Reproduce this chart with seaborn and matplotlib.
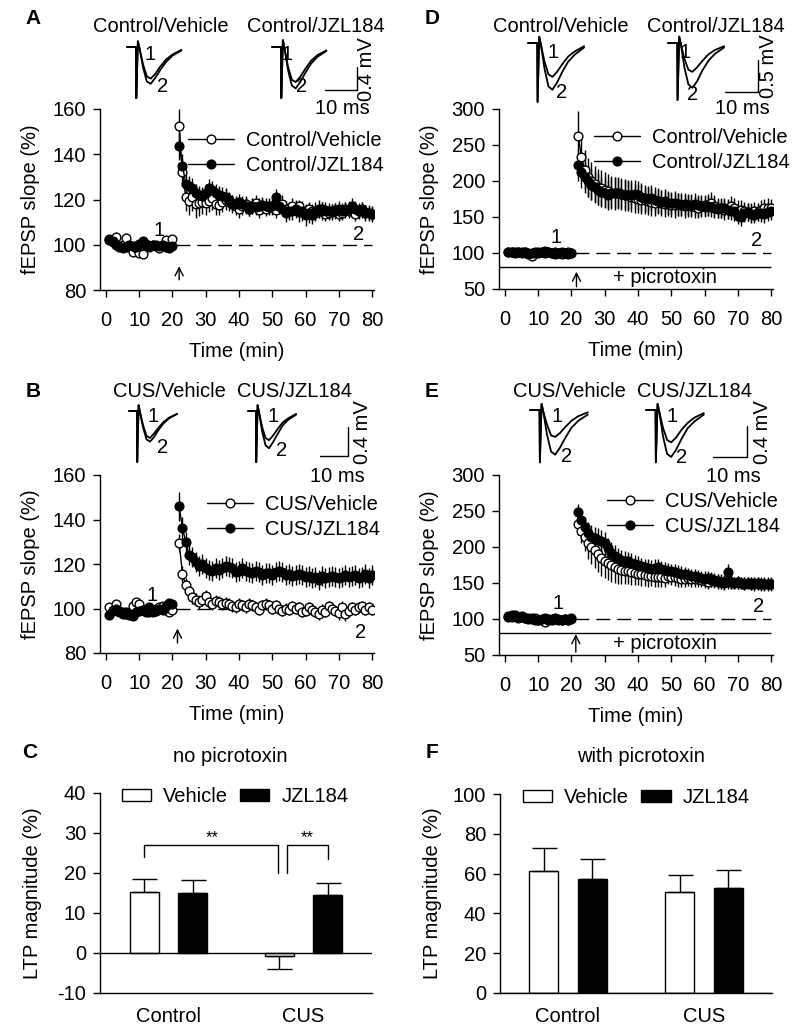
import numpy as np
import pandas as pd
import matplotlib
matplotlib.use("Agg")
import matplotlib.pyplot as plt
from matplotlib.lines import Line2D
import seaborn as sns

# ------------------------------------------------------------------ data
TIME_MIN = list(range(1, 21)) + list(range(22, 81))
BASELINE = 100

A_VEH_MEAN = [
    102.5, 101.0, 103.5, 99.0, 100.0, 103.0, 99.5, 97.0, 98.5, 96.5,
    96.0, 100.5, 99.0, 100.0, 99.5, 98.5, 100.0, 102.0, 99.5, 102.5,
    152.5, 132.0, 121.0, 119.5, 121.0, 118.0, 118.5, 119.0, 118.5, 119.5,
    120.5, 118.0, 117.5, 119.0, 120.0, 119.0, 118.0, 117.0, 116.0, 117.0,
    118.0, 116.0, 117.0, 118.5, 115.5, 117.0, 116.0, 117.0, 116.5, 115.5,
    117.0, 118.0, 116.0, 115.0, 117.0, 116.0, 117.0, 114.5, 115.0, 116.0,
    115.0, 114.0, 115.0, 116.0, 113.5, 114.0, 115.0, 115.5, 113.5, 114.0,
    116.0, 115.0, 115.5, 113.5, 115.0, 116.0, 114.5, 114.0, 113.5]
A_VEH_SEM = [
    1.5, 1.5, 2.0, 1.5, 1.5, 2.0, 1.5, 1.5, 1.5, 2.0,
    2.0, 1.5, 1.5, 1.5, 1.5, 1.5, 1.5, 1.5, 1.5, 1.5,
    7.5, 6.0, 6.0, 6.5, 6.0, 6.0, 6.0, 5.5, 5.5, 5.0,
    5.0, 5.0, 4.5, 4.5, 4.5, 4.0, 4.0, 4.0, 4.0, 4.0,
    3.5, 3.5, 3.5, 3.5, 3.5, 3.5, 3.5, 3.5, 3.5, 3.5,
    3.5, 4.0, 3.5, 3.5, 3.5, 3.5, 3.0, 3.0, 3.0, 3.0,
    3.0, 3.5, 3.0, 3.0, 3.0, 3.0, 3.0, 3.0, 3.0, 3.0,
    3.0, 3.0, 3.0, 3.0, 3.0, 3.0, 3.0, 3.0, 3.0]
A_JZL_MEAN = [
    102.0, 101.5, 100.0, 99.5, 98.5, 99.0, 100.0, 99.5, 99.0, 100.5,
    101.5, 100.0, 99.5, 100.0, 100.0, 99.5, 100.0, 99.0, 98.5, 99.5,
    143.5, 135.0, 127.0, 126.0, 125.0, 123.0, 122.0, 121.5, 123.0, 125.0,
    124.0, 123.0, 122.0, 121.5, 121.0, 120.0, 118.5, 118.0, 119.0, 118.0,
    117.0, 116.0, 117.0, 116.5, 117.0, 117.5, 117.0, 116.5, 117.0, 121.0,
    117.0, 116.0, 114.0, 115.0, 115.0, 116.0, 114.5, 115.0, 113.0, 114.0,
    113.0, 115.0, 116.0, 115.0, 115.5, 115.0, 114.5, 115.0, 116.0, 115.0,
    115.5, 116.0, 117.0, 116.0, 115.0, 115.5, 114.0, 114.0, 113.5]
A_JZL_SEM = [
    1.5, 1.5, 1.5, 1.5, 1.5, 1.5, 1.5, 1.5, 1.5, 1.5,
    1.5, 1.5, 1.5, 1.5, 1.5, 1.5, 1.5, 1.5, 1.5, 1.5,
    6.0, 5.0, 4.5, 4.5, 4.5, 4.0, 4.0, 4.0, 4.0, 4.0,
    4.0, 4.0, 4.0, 4.0, 4.0, 3.5, 3.5, 3.5, 3.5, 3.5,
    3.5, 3.5, 3.5, 3.5, 3.5, 3.5, 3.5, 3.5, 3.5, 3.5,
    3.5, 3.5, 4.0, 4.0, 4.0, 4.0, 4.5, 4.5, 4.5, 4.5,
    4.0, 4.0, 4.0, 4.0, 3.5, 3.5, 3.5, 3.5, 3.5, 3.5,
    3.5, 3.5, 3.5, 3.5, 3.5, 3.5, 3.5, 3.5, 3.5]

B_VEH_MEAN = [
    100.5, 99.5, 102.0, 99.0, 98.5, 97.5, 98.0, 101.0, 103.0, 102.0,
    99.5, 99.0, 98.5, 99.5, 100.0, 100.5, 101.0, 99.5, 98.5, 99.5,
    129.5, 115.5, 110.5, 108.0, 105.0, 104.0, 103.0, 104.0, 105.5, 103.0,
    102.0, 103.5, 103.0, 102.0, 102.5, 102.0, 101.0, 100.5, 102.0, 101.5,
    100.5, 102.0, 101.5, 100.5, 99.5, 101.5, 102.0, 101.5, 100.0, 101.5,
    100.0, 99.0, 100.0, 99.5, 101.0, 100.0, 100.5, 98.5, 99.0, 100.5,
    99.5, 98.5, 97.5, 99.5, 98.5, 101.0, 100.0, 99.0, 98.0, 100.5,
    97.5, 99.0, 100.5, 99.5, 100.5, 101.0, 99.5, 100.5, 99.5]
B_VEH_SEM = [
    1.5, 1.5, 1.5, 1.5, 1.5, 1.5, 1.5, 1.5, 1.5, 1.5,
    1.5, 1.5, 1.5, 1.5, 1.5, 1.5, 1.5, 1.5, 1.5, 1.5,
    4.0, 3.5, 3.0, 3.0, 3.0, 3.0, 3.0, 3.0, 3.0, 3.0,
    2.5, 2.5, 2.5, 2.5, 2.5, 2.5, 2.5, 2.5, 2.5, 2.5,
    2.5, 2.5, 2.5, 2.5, 2.5, 2.5, 2.5, 2.5, 2.5, 2.5,
    2.5, 2.5, 2.5, 2.5, 2.5, 2.5, 2.5, 2.5, 2.5, 2.5,
    2.5, 2.5, 2.5, 2.5, 2.5, 2.5, 2.5, 2.5, 3.0, 3.0,
    3.0, 3.0, 2.5, 2.5, 2.5, 2.5, 2.5, 2.5, 2.5]
B_JZL_MEAN = [
    97.0, 99.0, 100.0, 98.5, 97.5, 98.5, 97.0, 96.5, 98.5, 99.0,
    99.5, 98.5, 100.5, 98.5, 99.0, 100.0, 99.5, 101.0, 102.5, 102.0,
    146.0, 136.0, 130.0, 124.0, 123.0, 121.0, 119.0, 120.0, 118.0, 117.5,
    117.0, 118.0, 117.5, 118.0, 119.0, 118.5, 118.0, 116.5, 117.0, 118.0,
    117.0, 116.5, 116.0, 117.0, 116.5, 115.0, 116.0, 116.0, 115.0, 116.5,
    117.0, 116.5, 115.0, 115.5, 114.5, 115.0, 115.5, 115.0, 114.0, 114.5,
    113.5, 114.0, 113.0, 114.5, 113.5, 114.0, 114.5, 114.0, 113.5, 114.0,
    115.0, 114.0, 114.5, 115.0, 113.5, 114.0, 115.5, 113.5, 115.0]
B_JZL_SEM = [
    1.5, 1.5, 1.5, 1.5, 1.5, 1.5, 1.5, 1.5, 1.5, 1.5,
    1.5, 1.5, 1.5, 1.5, 1.5, 1.5, 1.5, 1.5, 1.5, 1.5,
    6.5, 5.0, 4.5, 4.5, 4.5, 4.5, 4.5, 4.5, 4.5, 4.5,
    4.5, 4.5, 4.5, 4.5, 4.5, 4.5, 4.5, 4.5, 4.5, 4.5,
    4.5, 4.5, 4.5, 4.5, 4.5, 4.5, 4.5, 4.5, 4.5, 4.5,
    4.5, 4.5, 4.5, 4.5, 4.5, 4.5, 4.5, 4.5, 4.5, 4.5,
    4.5, 4.5, 4.5, 4.5, 4.5, 4.5, 4.5, 4.5, 4.5, 4.5,
    4.5, 4.5, 4.5, 4.5, 4.5, 4.5, 4.5, 4.5, 4.5]

D_VEH_MEAN = [
    101, 102, 100, 101, 102, 101, 100, 96, 100, 101,
    102, 103, 101, 100, 101, 100, 99, 100, 101, 100,
    262, 234, 215, 205, 200, 196, 192, 190, 188, 186,
    184, 183, 183, 182, 181, 180, 178, 176, 175, 174,
    173, 172, 171, 170, 172, 169, 168, 168, 167, 166,
    168, 167, 165, 166, 165, 164, 163, 165, 166, 167,
    170, 165, 163, 162, 160, 161, 165, 163, 159, 160,
    158, 157, 156, 158, 157, 160, 162, 163, 162]
D_VEH_SEM = [
    3, 3, 3, 3, 3, 3, 3, 4, 3, 3,
    3, 3, 3, 3, 3, 3, 3, 3, 3, 3,
    35, 30, 28, 27, 26, 25, 25, 25, 24, 24,
    23, 23, 22, 22, 22, 21, 21, 20, 20, 20,
    19, 19, 19, 18, 18, 18, 18, 17, 17, 17,
    16, 16, 16, 16, 15, 15, 15, 15, 15, 15,
    15, 15, 14, 14, 14, 14, 14, 14, 14, 14,
    13, 13, 13, 13, 13, 13, 13, 13, 13]
D_JZL_MEAN = [
    102, 101, 102, 101, 100, 101, 99, 100, 101, 100,
    101, 100, 101, 100, 99, 100, 101, 100, 99, 100,
    222, 212, 205, 200, 195, 192, 188, 185, 183, 181,
    183, 184, 183, 182, 181, 180, 181, 182, 180, 178,
    176, 175, 176, 174, 172, 171, 172, 170, 169, 170,
    168, 167, 168, 166, 167, 168, 166, 165, 164, 165,
    164, 162, 161, 162, 163, 160, 159, 158, 152, 150,
    155, 157, 154, 153, 156, 155, 154, 157, 158]
D_JZL_SEM = [
    3, 3, 3, 3, 3, 3, 3, 3, 3, 3,
    3, 3, 3, 3, 3, 3, 3, 3, 3, 3,
    22, 22, 22, 22, 22, 22, 22, 21, 21, 21,
    21, 21, 21, 20, 20, 20, 20, 20, 20, 19,
    19, 18, 18, 18, 17, 17, 17, 16, 16, 16,
    16, 15, 15, 15, 15, 15, 14, 14, 14, 14,
    14, 14, 13, 13, 13, 13, 13, 13, 12, 12,
    12, 12, 12, 12, 12, 12, 12, 12, 12]

E_VEH_MEAN = [
    104, 103, 105, 102, 103, 101, 102, 100, 101, 99,
    98, 96, 99, 100, 101, 100, 99, 100, 99, 101,
    232, 222, 214, 205, 200, 196, 190, 185, 181, 178,
    175, 172, 170, 168, 167, 166, 165, 164, 163, 162,
    161, 160, 160, 159, 158, 158, 157, 160, 159, 158,
    157, 156, 155, 157, 156, 155, 155, 154, 153, 152,
    154, 153, 152, 151, 150, 152, 151, 150, 151, 150,
    149, 150, 149, 148, 150, 149, 148, 149, 148]
E_VEH_SEM = [
    3, 3, 3, 3, 3, 3, 3, 3, 3, 3,
    3, 3, 3, 3, 3, 3, 3, 3, 3, 3,
    15, 16, 20, 22, 24, 25, 25, 25, 24, 24,
    23, 22, 21, 20, 19, 18, 18, 17, 16, 16,
    15, 15, 14, 14, 13, 13, 13, 12, 12, 12,
    12, 11, 11, 11, 11, 11, 10, 10, 10, 10,
    10, 10, 10, 10, 10, 10, 10, 9, 9, 9,
    9, 9, 9, 9, 9, 9, 9, 9, 9]
E_JZL_MEAN = [
    103, 105, 104, 103, 104, 102, 100, 101, 99, 98,
    100, 101, 100, 99, 100, 99, 98, 100, 99, 100,
    248, 238, 228, 220, 214, 212, 210, 208, 205, 198,
    192, 188, 185, 182, 181, 180, 178, 176, 175, 173,
    172, 171, 170, 171, 172, 170, 168, 167, 166, 165,
    164, 163, 162, 161, 160, 160, 158, 157, 156, 157,
    155, 154, 153, 152, 151, 165, 152, 150, 151, 150,
    149, 150, 149, 150, 149, 148, 149, 148, 149]
E_JZL_SEM = [
    3, 3, 3, 3, 3, 3, 3, 3, 3, 3,
    3, 3, 3, 3, 3, 3, 3, 3, 3, 3,
    12, 12, 14, 15, 16, 16, 16, 16, 16, 15,
    15, 15, 14, 14, 14, 13, 13, 13, 13, 12,
    12, 12, 12, 12, 11, 11, 11, 11, 11, 11,
    11, 10, 10, 10, 10, 10, 10, 10, 10, 10,
    10, 10, 10, 10, 10, 11, 10, 9, 9, 9,
    9, 9, 9, 9, 9, 9, 9, 9, 9]

# LTP magnitude bars
GROUPS = ["Control", "CUS"]
DRUGS = ["Vehicle", "JZL184"]
C_VEH = [15.2, -0.7]
C_VEH_ERR = [3.3, 3.3]
C_JZL = [15.1, 14.4]
C_JZL_ERR = [3.2, 3.2]
F_VEH = [61.5, 51.0]
F_VEH_ERR = [11.5, 8.5]
F_JZL = [57.5, 53.0]
F_JZL_ERR = [10.0, 9.0]

# example fEPSP traces (ms, mV relative to baseline)
T_MS = [0.0, 2.8, 2.9, 3.4, 3.9, 5.0, 6.2, 7.4, 8.8, 10.4, 12.2, 14.2, 17.0]
A_VEH_TR = [[0, 0, -0.89, 0.10, -0.02, -0.30, -0.51, -0.55, -0.47, -0.34, -0.22, -0.13, -0.05],
            [0, 0, -0.89, 0.10, -0.02, -0.35, -0.60, -0.64, -0.54, -0.40, -0.26, -0.15, -0.06]]
A_JZL_TR = [[0, 0, -0.89, 0.12, -0.02, -0.34, -0.57, -0.61, -0.52, -0.38, -0.24, -0.14, -0.06],
            [0, 0, -0.89, 0.12, -0.02, -0.40, -0.67, -0.72, -0.61, -0.45, -0.29, -0.17, -0.07]]
B_VEH_TR = [[0, 0, -0.70, 0.08, -0.02, -0.20, -0.34, -0.37, -0.31, -0.23, -0.15, -0.09, -0.04],
            [0, 0, -0.70, 0.08, -0.02, -0.23, -0.39, -0.42, -0.36, -0.26, -0.17, -0.10, -0.04]]
B_JZL_TR = [[0, 0, -0.70, 0.08, -0.02, -0.22, -0.37, -0.40, -0.34, -0.25, -0.16, -0.10, -0.04],
            [0, 0, -0.70, 0.08, -0.02, -0.28, -0.47, -0.51, -0.43, -0.32, -0.20, -0.12, -0.05]]
D_VEH_TR = [[0, 0, -0.92, 0.10, -0.02, -0.29, -0.49, -0.53, -0.45, -0.33, -0.21, -0.13, -0.05],
            [0, 0, -0.92, 0.10, -0.02, -0.40, -0.68, -0.73, -0.62, -0.45, -0.29, -0.18, -0.07]]
D_JZL_TR = [[0, 0, -0.89, 0.10, -0.02, -0.25, -0.42, -0.45, -0.38, -0.28, -0.18, -0.11, -0.05],
            [0, 0, -0.89, 0.10, -0.02, -0.39, -0.65, -0.70, -0.60, -0.43, -0.28, -0.17, -0.07]]
E_VEH_TR = [[0, 0, -0.68, 0.08, -0.02, -0.19, -0.33, -0.35, -0.30, -0.22, -0.14, -0.08, -0.03],
            [0, 0, -0.68, 0.08, -0.02, -0.32, -0.54, -0.58, -0.49, -0.36, -0.23, -0.14, -0.06]]
E_JZL_TR = [[0, 0, -0.68, 0.08, -0.02, -0.23, -0.39, -0.42, -0.36, -0.26, -0.17, -0.10, -0.04],
            [0, 0, -0.68, 0.08, -0.02, -0.34, -0.57, -0.61, -0.52, -0.38, -0.24, -0.15, -0.06]]

# ------------------------------------------------------------------ style
sns.set_theme(style="ticks")
plt.rcParams['font.family'] = ['Liberation Sans', 'DejaVu Sans']
FS = 14.5
plt.rcParams.update({
    'font.size': FS, 'axes.labelsize': FS, 'xtick.labelsize': FS, 'ytick.labelsize': FS,
    'axes.linewidth': 1.0, 'axes.edgecolor': 'black', 'axes.labelcolor': 'black',
    'xtick.color': 'black', 'ytick.color': 'black', 'text.color': 'black',
    'xtick.major.width': 1.0, 'ytick.major.width': 1.0,
    'xtick.major.size': 5, 'ytick.major.size': 5,
    'axes.unicode_minus': False,
})

W, H = 800, 1030
fig = plt.figure(figsize=(W / 100, H / 100), dpi=100)


def px_axes(L, T, R, B):
    return fig.add_axes([L / W, 1 - B / H, (R - L) / W, (B - T) / H])


def ftext(x, y, s, **kw):
    kw.setdefault('ha', 'center')
    kw.setdefault('va', 'center')
    kw.setdefault('fontsize', FS)
    fig.text(x / W, 1 - y / H, s, **kw)


def time_panel(box, veh_m, veh_e, jzl_m, jzl_e, names, ylim, yticks, lab1, lab2,
               arrow, leg_anchor, picro=False):
    L, T, R, B = box
    ax = px_axes(L, T, R, B)
    t = np.array(TIME_MIN)
    seg = np.where(t < 21, 0, 1)
    ax.hlines(BASELINE, 21, 80, colors='black', linewidth=1.0,
              linestyles=(0, (10, 5)), zorder=1)
    if picro:
        ax.hlines(81, -1.8, 80, colors='black', linewidth=1.0, zorder=1)
        ax.text(48, 66.5, "+ picrotoxin", ha='center', va='center', fontsize=FS)
    series = [(veh_m, veh_e, 'white', 3), (jzl_m, jzl_e, 'black', 4)]
    for m, e, fc, z in series:
        df = pd.DataFrame({'t': t, 'm': m, 'e': e, 'seg': seg})
        ax.errorbar(df['t'], df['m'], yerr=df['e'], fmt='none', ecolor='black',
                    elinewidth=1.0, capsize=0, zorder=2)
    for m, e, fc, z in series:
        df = pd.DataFrame({'t': t, 'm': m, 'e': e, 'seg': seg})
        sns.lineplot(data=df, x='t', y='m', units='seg', estimator=None, ax=ax,
                     color='black', linewidth=1.0, marker='o', markersize=6.3,
                     markerfacecolor=fc, markeredgecolor='black',
                     markeredgewidth=1.0, legend=False, zorder=z)
    ax.set_xlim(-1.8, 80.6)
    ax.set_ylim(*ylim)
    ax.set_xticks(range(0, 81, 10))
    ax.set_yticks(yticks)
    ax.tick_params(axis='x', pad=10)
    ax.tick_params(axis='y', pad=5)
    ax.set_xlabel("Time (min)", fontweight='normal')
    ax.set_ylabel("fEPSP slope (%)", fontweight='normal')
    ax.xaxis.set_label_coords(0.5, -52 / (B - T))
    ax.yaxis.set_label_coords(-60 / (R - L), 0.5)
    sns.despine(ax=ax)
    ax.text(lab1[0], lab1[1], "1", ha='center', va='center', fontsize=FS)
    ax.text(lab2[0], lab2[1], "2", ha='center', va='center', fontsize=FS)
    ax.annotate('', xy=(arrow[0], arrow[2]), xytext=(arrow[0], arrow[1]),
                arrowprops=dict(arrowstyle='->', color='black', lw=1.0,
                                shrinkA=0, shrinkB=0))
    handles = [Line2D([], [], color='black', lw=1.0, marker='o', markersize=6.3,
                      markerfacecolor=fc, markeredgecolor='black')
               for fc in ('white', 'black')]
    ax.legend(handles, names, loc='upper left', bbox_to_anchor=leg_anchor,
              frameon=False, borderpad=0, borderaxespad=0, handlelength=2.3,
              handletextpad=0.6, labelspacing=0.3, fontsize=FS)
    return ax


def bar_panel(box, veh, veh_err, jzl, jzl_err, ylim, yticks, xlim, leg_anchor):
    L, T, R, B = box
    ax = px_axes(L, T, R, B)
    df = pd.DataFrame({
        'group': GROUPS + GROUPS,
        'drug': [DRUGS[0]] * 2 + [DRUGS[1]] * 2,
        'value': veh + jzl,
    })
    sns.barplot(data=df, x='group', y='value', hue='drug', hue_order=DRUGS,
                palette={'Vehicle': 'white', 'JZL184': 'black'}, saturation=1,
                edgecolor='black', linewidth=1.0, width=0.72, gap=0.4,
                errorbar=None, ax=ax)
    centers = {}
    for cont, errs, name in zip(ax.containers, (veh_err, jzl_err), DRUGS):
        for bar, err, grp in zip(cont, errs, GROUPS):
            x = bar.get_x() + bar.get_width() / 2
            v = bar.get_y() + bar.get_height()
            if bar.get_height() < 0:
                yerr = [[err], [0]]
            else:
                yerr = [[0], [err]]
            ax.errorbar([x], [v], yerr=yerr, fmt='none', ecolor='black',
                        elinewidth=1.0, capsize=9, capthick=1.0, zorder=3)
            centers[(grp, name)] = x
    ax.axhline(0, color='black', lw=1.0, zorder=4)
    ax.set_xlim(*xlim)
    ax.set_ylim(*ylim)
    ax.set_yticks(yticks)
    ax.set_xlabel("")
    ax.set_ylabel("LTP magnitude (%)", fontweight='normal')
    ax.yaxis.set_label_coords(-58 / (R - L), 0.5)
    ax.tick_params(axis='x', length=0, pad=10)
    ax.tick_params(axis='y', pad=5)
    sns.despine(ax=ax)
    sns.move_legend(ax, 'upper left', bbox_to_anchor=leg_anchor, ncol=2,
                    frameon=False, title=None, handlelength=1.45,
                    handleheight=0.6, handletextpad=0.6, columnspacing=0.6,
                    borderpad=0, borderaxespad=0, fontsize=FS)
    return ax, centers


def trace_row(box, y0, px_ms, px_mv, starts, pairs, sb_corner, sb_ms, sb_mv):
    L, T, R, B = box
    ax = px_axes(L, T, R, B)
    ax.set_xlim(0, (R - L) / px_ms)
    ax.set_ylim((y0 - B) / px_mv, (y0 - T) / px_mv)
    for start, pair in zip(starts, pairs):
        off = (start - L) / px_ms
        for v in pair:
            df = pd.DataFrame({'t': np.array(T_MS) + off, 'v': v})
            sns.lineplot(data=df, x='t', y='v', sort=False, estimator=None,
                         color='black', linewidth=1.3, ax=ax, legend=False)
    cx = (sb_corner[0] - L) / px_ms
    cy = (y0 - sb_corner[1]) / px_mv
    ax.plot([cx - sb_ms, cx, cx], [cy, cy, cy + sb_mv], color='black', lw=1.0)
    ax.axis('off')


# ------------------------------------------------------------------ panels
time_panel((100, 109, 374, 290), A_VEH_MEAN, A_VEH_SEM, A_JZL_MEAN, A_JZL_SEM,
           ["Control/Vehicle", "Control/JZL184"], (80, 160), [80, 100, 120, 140, 160],
           (16, 106.5), (76, 104.5), (22, 84.5, 90.5), (0.32, 0.88))
time_panel((100, 475, 374, 653), B_VEH_MEAN, B_VEH_SEM, B_JZL_MEAN, B_JZL_SEM,
           ["CUS/Vehicle", "CUS/JZL184"], (80, 160), [80, 100, 120, 140, 160],
           (14, 106), (76.5, 89), (21.5, 84.5, 91), (0.39, 0.888))
time_panel((499, 109, 773, 289), D_VEH_MEAN, D_VEH_SEM, D_JZL_MEAN, D_JZL_SEM,
           ["Control/Vehicle", "Control/JZL184"], (50, 300), [50, 100, 150, 200, 250, 300],
           (15.5, 122), (75.7, 117), (21.5, 53, 74), (0.347, 0.895), picro=True)
time_panel((499, 475, 773, 655), E_VEH_MEAN, E_VEH_SEM, E_JZL_MEAN, E_JZL_SEM,
           ["CUS/Vehicle", "CUS/JZL184"], (50, 300), [50, 100, 150, 200, 250, 300],
           (16, 122), (76.3, 117), (21.3, 54, 79), (0.394, 0.905), picro=True)

axC, cC = bar_panel((100, 793, 372, 993), C_VEH, C_VEH_ERR, C_JZL, C_JZL_ERR,
                    (-10, 40), [-10, 0, 10, 20, 30, 40], (-0.51, 1.51), (0.08, 1.03))
axF, cF = bar_panel((500, 794, 772, 993), F_VEH, F_VEH_ERR, F_JZL, F_JZL_ERR,
                    (0, 100), [0, 20, 40, 60, 80, 100], (-0.5, 1.5), (0.085, 1.03))

# significance brackets in C
x1 = cC[("Control", "Vehicle")]
x2 = cC[("CUS", "Vehicle")]
x3 = cC[("CUS", "JZL184")]
axC.plot([x1, x1, x2 - 0.01, x2 - 0.01], [24, 27, 27, 20], color='black', lw=1.0)
axC.plot([x2 + 0.06, x2 + 0.06, x3, x3], [20, 27, 27, 23.5], color='black', lw=1.0)
axC.text((x1 + x2) / 2, 28.8, "**", ha='center', va='center', fontsize=12)
axC.text((x2 + 0.06 + x3) / 2, 28.8, "**", ha='center', va='center', fontsize=12)

# traces
trace_row((120, 30, 364, 102), 47, 3.2, 57.5, (127, 272), (A_VEH_TR, A_JZL_TR),
          (357, 90), 10, 0.4)
trace_row((120, 398, 352, 466), 411, 2.83, 73, (129, 248), (B_VEH_TR, B_JZL_TR),
          (348, 456), 10, 0.4)
trace_row((520, 30, 762, 106), 43, 3.3, 64, (528, 668), (D_VEH_TR, D_JZL_TR),
          (758, 92), 10, 0.5)
trace_row((522, 398, 752, 466), 410, 3.4, 77, (530, 646), (E_VEH_TR, E_JZL_TR),
          (747, 457), 10, 0.4)

# ------------------------------------------------------------------ text
for s, x, y in [("A", 33, 19), ("B", 33, 392), ("C", 30, 752),
                ("D", 432, 19), ("E", 432, 392), ("F", 432, 752)]:
    ftext(x, y, s, fontweight='bold', fontsize=15)

for s, x, y in [("Control/Vehicle", 161, 27), ("Control/JZL184", 316, 27),
                ("CUS/Vehicle", 169, 392), ("CUS/JZL184", 295, 392),
                ("Control/Vehicle", 561, 27), ("Control/JZL184", 716, 27),
                ("CUS/Vehicle", 569, 392), ("CUS/JZL184", 695, 392),
                ("10 ms", 342, 109), ("10 ms", 337, 477),
                ("10 ms", 742, 109), ("10 ms", 733, 477),
                ("no picrotoxin", 230, 757), ("with picrotoxin", 641, 757)]:
    ftext(x, y, s)

for s, x, y in [("0.4 mV", 366, 69), ("0.4 mV", 363, 432),
                ("0.5 mV", 768, 66), ("0.4 mV", 762, 432)]:
    ftext(x, y, s, rotation=90)

for s, x, y in [("1", 150, 55), ("2", 163, 87), ("1", 287, 55), ("2", 302, 87),
                ("1", 153, 417), ("2", 163, 448), ("1", 273, 417), ("2", 282, 450),
                ("1", 553, 52), ("2", 562, 93), ("1", 685, 52), ("2", 693, 95),
                ("1", 557, 417), ("2", 567, 457), ("1", 672, 417), ("2", 682, 458)]:
    ftext(x, y, s)

fig.savefig("out.png", dpi=100)
